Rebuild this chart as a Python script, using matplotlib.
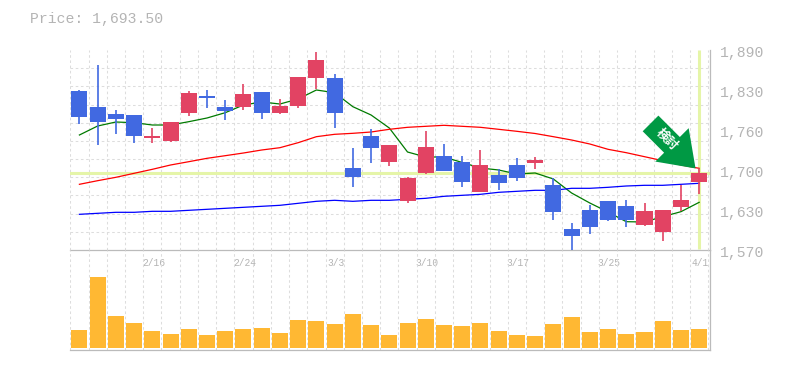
import numpy as np
import matplotlib
matplotlib.use("Agg")
import matplotlib.pyplot as plt
from matplotlib.transforms import ScaledTranslation


# candle values, oldest first
opens = [1824.4, 1798.8, 1787.6, 1786.0, 1749.2, 1744.4, 1789.2, 1816.4, 1798.8, 1798.8,
         1822.8, 1789.2, 1800.4, 1845.2, 1845.2, 1701.2, 1752.4, 1710.8, 1648.4, 1693.2,
         1720.4, 1710.8, 1662.8, 1690.0, 1706.0, 1709.2, 1674.0, 1603.6, 1634.0, 1648.4,
         1640.4, 1610.0, 1598.8, 1638.8, 1678.8]
closes = [1782.8, 1774.8, 1779.6, 1752.4, 1752.4, 1774.8, 1821.2, 1813.2, 1792.4, 1819.6,
          1789.2, 1800.4, 1846.8, 1874.0, 1789.2, 1686.8, 1733.2, 1738.0, 1685.2, 1734.8,
          1696.4, 1678.8, 1706.0, 1677.2, 1685.2, 1714.0, 1630.8, 1592.4, 1606.8, 1618.0,
          1618.0, 1632.4, 1634.0, 1650.0, 1693.5]
highs = [1826.0, 1866.0, 1794.0, 1786.0, 1765.2, 1774.8, 1824.4, 1826.0, 1810.0, 1835.6,
         1822.8, 1811.6, 1846.8, 1886.8, 1851.6, 1733.2, 1763.6, 1738.0, 1686.8, 1760.4,
         1739.6, 1720.4, 1730.0, 1699.6, 1717.2, 1718.8, 1685.2, 1613.2, 1642.0, 1648.4,
         1650.0, 1645.2, 1634.0, 1674.0, 1701.2]
lows = [1771.6, 1738.0, 1755.6, 1741.2, 1741.2, 1742.8, 1784.4, 1797.2, 1778.0, 1794.0,
        1779.6, 1787.6, 1797.2, 1827.6, 1765.2, 1670.8, 1709.2, 1704.4, 1645.2, 1691.6,
        1696.4, 1670.8, 1662.8, 1666.0, 1680.4, 1699.6, 1618.0, 1568.4, 1595.6, 1616.4,
        1606.8, 1608.4, 1584.4, 1632.4, 1659.6]

ma_short = [1754.0, 1768.4, 1774.8, 1773.7, 1770.0, 1770.0, 1775.3, 1781.2, 1789.7, 1802.0,
            1806.8, 1803.6, 1811.6, 1826.0, 1821.7, 1799.3, 1786.0, 1765.2, 1726.8, 1718.8,
            1718.8, 1710.0, 1701.2, 1698.0, 1691.6, 1693.2, 1683.6, 1661.2, 1645.2, 1630.8,
            1615.3, 1614.8, 1623.3, 1631.3, 1646.3]
ma_mid = [1675.1, 1680.9, 1686.3, 1692.7, 1699.1, 1706.0, 1711.3, 1716.7, 1720.9, 1725.2,
          1730.0, 1733.7, 1741.7, 1751.3, 1755.1, 1756.7, 1758.8, 1763.1, 1766.3, 1767.9,
          1769.5, 1767.9, 1766.3, 1763.1, 1759.9, 1756.4, 1751.3, 1746.0, 1739.6, 1731.1,
          1725.7, 1719.3, 1712.9, 1706.0, 1700.7]
ma_long = [1627.1, 1628.7, 1630.3, 1630.3, 1631.9, 1631.9, 1633.5, 1635.1, 1636.7, 1638.3,
           1639.9, 1641.5, 1644.7, 1647.9, 1649.5, 1647.9, 1649.5, 1649.5, 1651.1, 1652.7,
           1655.9, 1657.5, 1659.1, 1662.3, 1663.9, 1665.5, 1665.5, 1668.7, 1668.7, 1670.3,
           1672.4, 1673.5, 1673.5, 1675.1, 1676.7]

volumes = [18, 71, 32, 25, 17, 14, 19, 13, 17, 19, 20, 15, 28, 27, 24, 34, 23, 13,
           25, 29, 23, 22, 25, 17, 13, 12, 24, 31, 16, 19, 14, 16, 27, 18, 19]

date_pos = [4, 9, 14, 19, 24, 29, 34]
date_labels = ["2/16", "2/24", "3/3", "3/10", "3/17", "3/25", "4/1"]
price_ticks = [1570, 1634, 1698, 1762, 1826, 1890]
price_labels = ["1,570", "1,630", "1,700", "1,760", "1,830", "1,890"]
last_price = 1693.5

BLUE = "#4169E1"
RED = "#E24363"
GRID = "#DDDDDD"
TEXT = "#B4B4B4"
FRAME = "#BBBBBB"
MARK = "#E5F5A8"
MONO = "Liberation Mono"

W, H = 785, 370
LEFT, RIGHT = 70.3, 710
n = len(opens)
x = np.arange(n)
x_max = 34.5 + (RIGHT - 708.3) / 18.23
dash = (0, (2.5, 2.5))


def style_axes(ax):
    ax.set_xlim(-0.5, x_max)
    ax.set_xticks(np.arange(n + 1) - 0.5, minor=True)
    ax.grid(True, which="minor", color=GRID, lw=0.75, ls=dash, zorder=0)
    ax.tick_params(which="both", length=0)
    ax.set_axisbelow(True)
    ax.patch.set_alpha(0)
    for side in ["top", "left"]:
        ax.spines[side].set_visible(False)
    for side in ["bottom", "right"]:
        ax.spines[side].set_color(FRAME)
        ax.spines[side].set_linewidth(0.9)


fig = plt.figure(figsize=(W / 100, H / 100), dpi=100)
ax = fig.add_axes([LEFT / W, (H - 250) / H, (RIGHT - LEFT) / W, 200 / H])
ax_vol = fig.add_axes([LEFT / W, (H - 350) / H, (RIGHT - LEFT) / W, 100 / H])

# price panel
style_axes(ax)
ax.set_ylim(1570, 1890)
ax.set_yticks(np.linspace(1570, 1890, 12), minor=True)
ax.yaxis.tick_right()
ax.set_yticks(price_ticks)
ax.set_yticklabels(price_labels, family=MONO, fontsize=10.6, color=TEXT)
ax.set_xticks(date_pos)
ax.set_xticklabels(date_labels, family=MONO, fontsize=6.9, color=TEXT)
ax.tick_params(axis="y", which="major", pad=7)
ax.tick_params(axis="x", which="major", pad=6)

offset_y = ScaledTranslation(0, -2 / 100, fig.dpi_scale_trans)
for label in ax.get_yticklabels():
    label.set_transform(label.get_transform() + offset_y)
offset_x = ScaledTranslation(1.2 / 100, 0, fig.dpi_scale_trans)
for label in ax.get_xticklabels():
    label.set_transform(label.get_transform() + offset_x)

ax.axhline(last_price, color=MARK, lw=2.2, zorder=1)
ax.plot([x[-1], x[-1]], [1571, 1890], color=MARK, lw=2.2, zorder=1, solid_capstyle="butt")

ax.plot(x, ma_short, color="#007A00", lw=0.9, zorder=2)
ax.plot(x, ma_mid, color="#FF0000", lw=0.9, zorder=2)
ax.plot(x, ma_long, color="#0000FF", lw=0.9, zorder=2)

opens = np.array(opens)
closes = np.array(closes)
colors = [RED if c >= o else BLUE for o, c in zip(opens, closes)]
ax.vlines(x, lows, highs, colors=colors, lw=1.2, zorder=3)
ax.bar(x, np.abs(closes - opens), bottom=np.minimum(opens, closes), width=0.878,
       color=colors, zorder=4)

# arrow pointing at the last candle
tip = (33.8, 1700.5)
ax.annotate("", xy=tip, xycoords="data", xytext=(-45, 45), textcoords="offset pixels",
            arrowprops=dict(width=16, headwidth=34, headlength=24, color="#009944", lw=0),
            zorder=6, annotation_clip=False)
ax.annotate("検討", xy=tip, xycoords="data", xytext=(-28.5, 28.5), textcoords="offset pixels",
            rotation=-45, ha="center", va="center", color="white", fontsize=9,
            fontweight="bold", family=["Noto Sans CJK JP", "DejaVu Sans"],
            rotation_mode="anchor", zorder=7)

# volume panel
style_axes(ax_vol)
ax_vol.set_ylim(-2, 98)
ax_vol.set_yticks([])
ax_vol.set_xticks([])
ax_vol.bar(x, volumes, width=0.878, color="#FFB833", zorder=3)

fig.text(30 / W, 1 - 18.5 / H, "Price: 1,693.50", family=MONO, fontsize=10.6,
         color=TEXT, ha="left", va="center")

fig.savefig("out.png", dpi=100)
